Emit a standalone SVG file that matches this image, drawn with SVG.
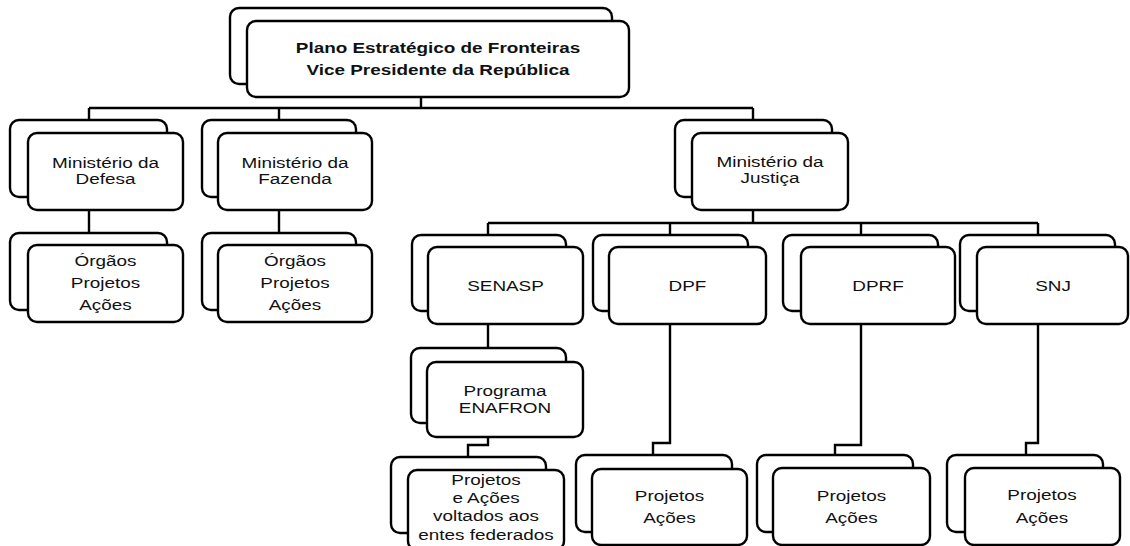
<svg xmlns="http://www.w3.org/2000/svg" width="1130" height="546" viewBox="0 0 1130 546">
<style>
.b{fill:#fff;stroke:#000;stroke-width:2.4}
.c{fill:none;stroke:#000;stroke-width:2.4}
text{font-family:"Liberation Sans",Arial,sans-serif;font-size:15.5px;fill:#111;text-anchor:middle}
.t{font-weight:bold}
</style>
<rect width="1130" height="546" fill="#fff"/>
<g id="connectors">
<path class="c" d="M421 97V108M89 108H753M89 108V120M279 108V120M753 108V120"/>
<path class="c" d="M89 210V233M279 210V233"/>
<path class="c" d="M753 210V223M488 223H1038M488 223V235M670 223V235M861 223V235M1038 223V235"/>
<path class="c" d="M488 324V348"/>
<path class="c" d="M488 437V445H468V457"/>
<path class="c" d="M670 324V443H653V455"/>
<path class="c" d="M861 324V445H835V455"/>
<path class="c" d="M1038 324V443H1026V455"/>
</g>
<g id="plano">
<rect class="b" x="230" y="8" width="382" height="76" rx="9"/>
<rect class="b" x="247" y="21" width="382" height="76" rx="9"/>
<g transform="translate(438 0) scale(1.22 1)"><text class="t" x="0" y="53">Plano Estratégico de Fronteiras</text><text class="t" x="0" y="75">Vice Presidente da República</text></g>
</g>
<g id="defesa">
<rect class="b" x="10" y="120" width="157" height="77" rx="9"/>
<rect class="b" x="28" y="133" width="155" height="77" rx="9"/>
<g transform="translate(105.5 0) scale(1.22 1)"><text x="0" y="168">Ministério da</text><text x="0" y="184">Defesa</text></g>
</g>
<g id="fazenda">
<rect class="b" x="202" y="120" width="154" height="77" rx="9"/>
<rect class="b" x="218" y="133" width="154" height="77" rx="9"/>
<g transform="translate(295 0) scale(1.22 1)"><text x="0" y="168">Ministério da</text><text x="0" y="184">Fazenda</text></g>
</g>
<g id="orgaos-defesa">
<rect class="b" x="10" y="233" width="157" height="77" rx="9"/>
<rect class="b" x="28" y="245" width="155" height="77" rx="9"/>
<g transform="translate(105.5 0) scale(1.22 1)"><text x="0" y="266">Órgãos</text><text x="0" y="288">Projetos</text><text x="0" y="310">Ações</text></g>
</g>
<g id="orgaos-fazenda">
<rect class="b" x="202" y="233" width="154" height="77" rx="9"/>
<rect class="b" x="218" y="245" width="154" height="77" rx="9"/>
<g transform="translate(295 0) scale(1.22 1)"><text x="0" y="266">Órgãos</text><text x="0" y="288">Projetos</text><text x="0" y="310">Ações</text></g>
</g>
<g id="justica">
<rect class="b" x="675" y="120" width="157" height="77" rx="9"/>
<rect class="b" x="692" y="133" width="156" height="77" rx="9"/>
<g transform="translate(770 0) scale(1.22 1)"><text x="0" y="167">Ministério da</text><text x="0" y="183">Justiça</text></g>
</g>
<g id="senasp">
<rect class="b" x="412" y="235" width="154" height="76" rx="9"/>
<rect class="b" x="428" y="247" width="155" height="77" rx="9"/>
<g transform="translate(505.5 0) scale(1.22 1)"><text x="0" y="291">SENASP</text></g>
</g>
<g id="dpf">
<rect class="b" x="593" y="235" width="155" height="76" rx="9"/>
<rect class="b" x="609" y="247" width="157" height="77" rx="9"/>
<g transform="translate(687.5 0) scale(1.22 1)"><text x="0" y="291">DPF</text></g>
</g>
<g id="dprf">
<rect class="b" x="783" y="235" width="155" height="76" rx="9"/>
<rect class="b" x="801" y="247" width="154" height="77" rx="9"/>
<g transform="translate(878 0) scale(1.22 1)"><text x="0" y="291">DPRF</text></g>
</g>
<g id="snj">
<rect class="b" x="960" y="235" width="155" height="76" rx="9"/>
<rect class="b" x="977" y="247" width="151" height="77" rx="9"/>
<g transform="translate(1053 0) scale(1.22 1)"><text x="0" y="291">SNJ</text></g>
</g>
<g id="enafron">
<rect class="b" x="411" y="348" width="155" height="75" rx="9"/>
<rect class="b" x="427" y="362" width="156" height="75" rx="9"/>
<g transform="translate(505 0) scale(1.22 1)"><text x="0" y="396">Programa</text><text x="0" y="413">ENAFRON</text></g>
</g>
<g id="projetos-enafron">
<rect class="b" x="391" y="457" width="155" height="76" rx="9"/>
<rect class="b" x="408" y="470" width="156" height="80" rx="9"/>
<g transform="translate(486 0) scale(1.22 1)"><text x="0" y="485">Projetos</text><text x="0" y="503">e Ações</text><text x="0" y="521">voltados aos</text><text x="0" y="540">entes federados</text></g>
</g>
<g id="projetos-dpf">
<rect class="b" x="576" y="455" width="156" height="77" rx="9"/>
<rect class="b" x="592" y="469" width="155" height="76" rx="9"/>
<g transform="translate(669.5 0) scale(1.22 1)"><text x="0" y="501">Projetos</text><text x="0" y="523">Ações</text></g>
</g>
<g id="projetos-dprf">
<rect class="b" x="757" y="455" width="156" height="77" rx="9"/>
<rect class="b" x="773" y="468" width="157" height="77" rx="9"/>
<g transform="translate(851.5 0) scale(1.22 1)"><text x="0" y="501">Projetos</text><text x="0" y="523">Ações</text></g>
</g>
<g id="projetos-snj">
<rect class="b" x="947" y="455" width="156" height="77" rx="9"/>
<rect class="b" x="965" y="468" width="155" height="77" rx="9"/>
<g transform="translate(1042 0) scale(1.22 1)"><text x="0" y="500">Projetos</text><text x="0" y="523">Ações</text></g>
</g>
</svg>
